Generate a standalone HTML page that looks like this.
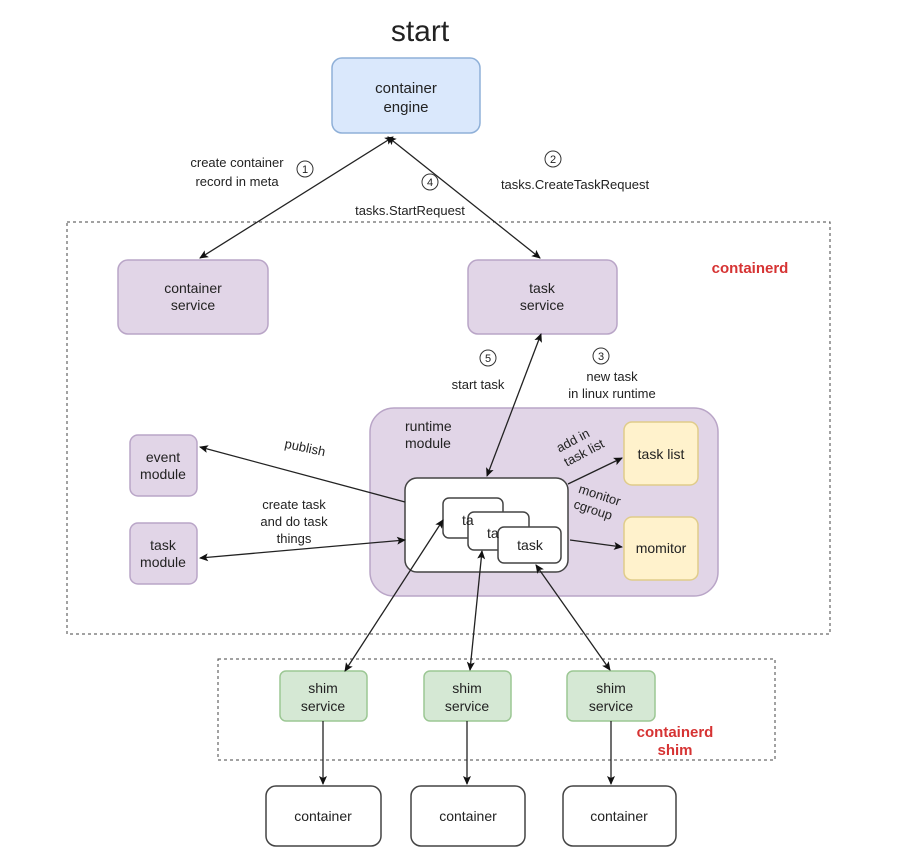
<!DOCTYPE html>
<html><head><meta charset="utf-8"><style>body{margin:0;background:#fff}svg{display:block}text{font-family:"Liberation Sans",sans-serif;fill:#222}</style></head><body>
<svg width="904" height="865" viewBox="0 0 904 865" xmlns="http://www.w3.org/2000/svg">
<defs><marker id="a" markerWidth="10" markerHeight="10" refX="8" refY="5" orient="auto-start-reverse" markerUnits="userSpaceOnUse"><path d="M0,1 L9,5 L0,9 L2,5 Z" fill="#111"/></marker></defs>
<text x="420" y="41" font-size="30" text-anchor="middle">start</text>
<rect x="332" y="58" width="148" height="75" rx="10" fill="#dae8fc" stroke="#8fb0d8" stroke-width="1.5"/>
<text x="406" y="93" font-size="15" text-anchor="middle">container</text><text x="406" y="112" font-size="15" text-anchor="middle">engine</text>
<rect x="67" y="222" width="763" height="412" fill="none" stroke="#444" stroke-dasharray="3,3"/>
<rect x="218" y="659" width="557" height="101" fill="none" stroke="#444" stroke-dasharray="3,3"/>
<text x="750" y="273" font-size="15" font-weight="bold" text-anchor="middle" style="fill:#d63333">containerd</text>
<text x="675" y="737" font-size="15" font-weight="bold" text-anchor="middle" style="fill:#d63333">containerd</text>
<text x="675" y="755" font-size="15" font-weight="bold" text-anchor="middle" style="fill:#d63333">shim</text>
<g fill="#e1d5e7" stroke="#b9a5c7" stroke-width="1.5">
<rect x="118" y="260" width="150" height="74" rx="10"/><rect x="468" y="260" width="149" height="74" rx="10"/>
<rect x="370" y="408" width="348" height="188" rx="24"/>
<rect x="130" y="435" width="67" height="61" rx="8"/><rect x="130" y="523" width="67" height="61" rx="8"/>
</g>
<g font-size="14" text-anchor="middle">
<text x="193" y="293">container</text><text x="193" y="310">service</text>
<text x="542" y="293">task</text><text x="542" y="310">service</text>
<text x="163" y="462">event</text><text x="163" y="479">module</text>
<text x="163" y="550">task</text><text x="163" y="567">module</text>
</g>
<text x="405" y="431" font-size="14">runtime</text><text x="405" y="448" font-size="14">module</text>
<g fill="#fff2cc" stroke="#e0cc8a" stroke-width="1.5"><rect x="624" y="422" width="74" height="63" rx="8"/><rect x="624" y="517" width="74" height="63" rx="8"/></g>
<text x="661" y="459" font-size="14" text-anchor="middle">task list</text><text x="661" y="553" font-size="14" text-anchor="middle">momitor</text>
<rect x="405" y="478" width="163" height="94" rx="12" fill="#fff" stroke="#444" stroke-width="1.5"/>
<g fill="#fff" stroke="#444" stroke-width="1.5"><rect x="443" y="498" width="60" height="40" rx="6"/><rect x="468" y="512" width="61" height="38" rx="6"/><rect x="498" y="527" width="63" height="36" rx="6"/></g>
<text x="462" y="525" font-size="14">ta</text><text x="487" y="538" font-size="14">ta</text><text x="530" y="550" font-size="14" text-anchor="middle">task</text>
<g fill="#d5e8d4" stroke="#9cc794" stroke-width="1.5">
<rect x="280" y="671" width="87" height="50" rx="6"/><rect x="424" y="671" width="87" height="50" rx="6"/><rect x="567" y="671" width="88" height="50" rx="6"/></g>
<g font-size="14" text-anchor="middle">
<text x="323" y="693">shim</text><text x="323" y="711">service</text>
<text x="467" y="693">shim</text><text x="467" y="711">service</text>
<text x="611" y="693">shim</text><text x="611" y="711">service</text></g>
<g fill="#fff" stroke="#444" stroke-width="1.5"><rect x="266" y="786" width="115" height="60" rx="10"/><rect x="411" y="786" width="114" height="60" rx="10"/><rect x="563" y="786" width="113" height="60" rx="10"/></g>
<g font-size="14" text-anchor="middle"><text x="323" y="821">container</text><text x="468" y="821">container</text><text x="619" y="821">container</text></g>
<g stroke="#222" stroke-width="1.3" fill="none" marker-end="url(#a)">
<line x1="200" y1="258" x2="393" y2="137" marker-start="url(#a)"/>
<line x1="540" y1="258" x2="388" y2="137" marker-start="url(#a)"/>
<line x1="487" y1="476" x2="541" y2="334" marker-start="url(#a)"/>
<line x1="405" y1="502" x2="200" y2="447"/>
<line x1="200" y1="558" x2="405" y2="540" marker-start="url(#a)"/>
<line x1="568" y1="484" x2="622" y2="458"/>
<line x1="570" y1="540" x2="622" y2="547"/>
<line x1="345" y1="671" x2="443" y2="520" marker-start="url(#a)"/>
<line x1="470" y1="670" x2="482" y2="551" marker-start="url(#a)"/>
<line x1="610" y1="670" x2="536" y2="565" marker-start="url(#a)"/>
<line x1="323" y1="721" x2="323" y2="784"/><line x1="467" y1="721" x2="467" y2="784"/><line x1="611" y1="721" x2="611" y2="784"/>
</g>
<g font-size="13" text-anchor="middle">
<text x="237" y="167">create container</text><text x="237" y="186">record in meta</text>
<text x="410" y="215">tasks.StartRequest</text>
<text x="575" y="189">tasks.CreateTaskRequest</text>
<text x="478" y="389">start task</text>
<text x="612" y="381">new task</text><text x="612" y="398">in linux runtime</text>
<text x="294" y="509">create task</text><text x="294" y="526">and do task</text><text x="294" y="543">things</text>
</g>
<g fill="none" stroke="#333">
<circle cx="305" cy="169" r="8"/><circle cx="430" cy="182" r="8"/><circle cx="553" cy="159" r="8"/><circle cx="488" cy="358" r="8"/><circle cx="601" cy="356" r="8"/></g>
<g font-size="11" text-anchor="middle"><text x="305" y="173">1</text><text x="430" y="186">4</text><text x="553" y="163">2</text><text x="488" y="362">5</text><text x="601" y="360">3</text></g>
<text x="305" y="452" font-size="13" text-anchor="middle" transform="rotate(12 305 448)">publish</text>
<g font-size="13" transform="rotate(-28 575 450)"><text x="560" y="445">add in</text><text x="560" y="461">task list</text></g>
<g font-size="13" transform="rotate(18 600 505)"><text x="575" y="500">monitor</text><text x="575" y="516">cgroup</text></g>
</svg>
</body></html>
